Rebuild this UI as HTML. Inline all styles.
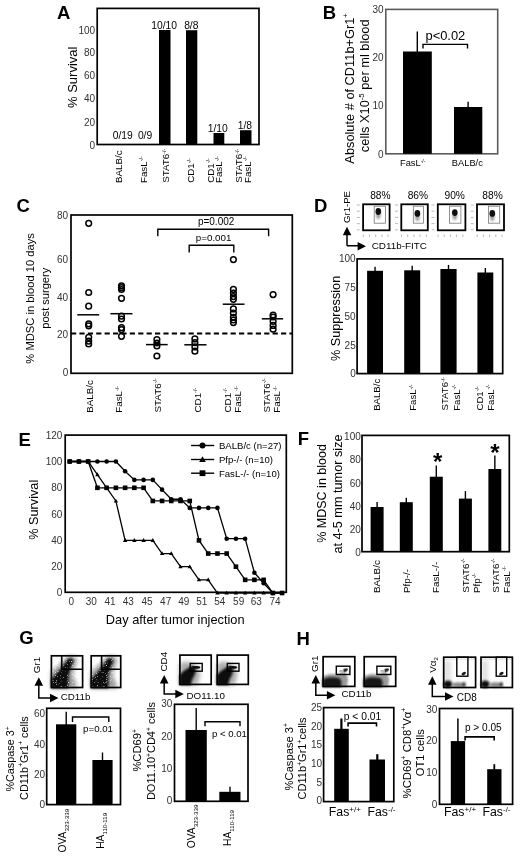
<!DOCTYPE html>
<html><head><meta charset="utf-8"><style>
html,body{margin:0;padding:0;background:#fff;}
svg{display:block;font-family:"Liberation Sans",sans-serif;filter:grayscale(1) blur(0.25px);}
</style></head><body>
<svg width="520" height="856" viewBox="0 0 520 856">
<defs>
<filter id="blur05" x="-50%" y="-50%" width="200%" height="200%"><feGaussianBlur stdDeviation="0.5"/></filter>
<filter id="blur1" x="-50%" y="-50%" width="200%" height="200%"><feGaussianBlur stdDeviation="1"/></filter>
<filter id="blur2" x="-50%" y="-50%" width="200%" height="200%"><feGaussianBlur stdDeviation="2"/></filter>
<filter id="noiseW3" x="0" y="0" width="100%" height="100%"><feTurbulence type="fractalNoise" baseFrequency="0.8" numOctaves="2" seed="3"/><feColorMatrix type="matrix" values="0 0 0 0 1  0 0 0 0 1  0 0 0 0 1  4 0 0 0 -2.45"/></filter>
<filter id="noiseW9" x="0" y="0" width="100%" height="100%"><feTurbulence type="fractalNoise" baseFrequency="0.8" numOctaves="2" seed="9"/><feColorMatrix type="matrix" values="0 0 0 0 1  0 0 0 0 1  0 0 0 0 1  4 0 0 0 -2.45"/></filter>
</defs>
<rect width="520" height="856" fill="#fff"/>
<text x="57.04" y="19.30" font-size="18.5" font-weight="bold" fill="#000">A</text>
<rect x="97.2" y="8.4" width="161.8" height="136.1" fill="none" stroke="#000" stroke-width="1.7"/>
<text x="89.53" y="149.09" font-size="10" fill="#333">0</text>
<text x="83.97" y="125.69" font-size="10" fill="#333">20</text>
<text x="83.97" y="102.39" font-size="10" fill="#333">40</text>
<text x="83.97" y="79.19" font-size="10" fill="#333">60</text>
<text x="83.97" y="55.99" font-size="10" fill="#333">80</text>
<text x="78.41" y="34.29" font-size="10" fill="#333">100</text>
<text transform="translate(77.04,108.00) rotate(-90)" font-size="13" fill="#000">% Survival</text>
<rect x="159" y="30" width="11.5" height="114.5" fill="#000"/>
<rect x="186" y="30.2" width="11.3" height="114.3" fill="#000"/>
<rect x="213.5" y="133" width="10.8" height="11.5" fill="#000"/>
<rect x="240" y="130.2" width="11.5" height="14.3" fill="#000"/>
<text x="112.72" y="139.09" font-size="10.3" fill="#000">0/19</text>
<text x="137.88" y="139.09" font-size="10.3" fill="#000">0/9</text>
<text x="151.22" y="29.09" font-size="10.3" fill="#000">10/10</text>
<text x="184.14" y="29.09" font-size="10.3" fill="#000">8/8</text>
<text x="207.79" y="131.59" font-size="10.3" fill="#000">1/10</text>
<text x="237.67" y="128.59" font-size="10.3" fill="#000">1/8</text>
<text transform="translate(122.22,183.10) rotate(-90)" font-size="9.8" fill="#000">BALB/c</text>
<text transform="translate(146.52,183.10) rotate(-90)" font-size="9.8" fill="#000">FasL<tspan font-size="5.39" dy="-3.53">-/-</tspan></text>
<text transform="translate(169.02,182.75) rotate(-90)" font-size="9.8" fill="#000">STAT6<tspan font-size="5.39" dy="-3.53">-/-</tspan></text>
<text transform="translate(194.42,182.80) rotate(-90)" font-size="9.8" fill="#000">CD1<tspan font-size="5.39" dy="-3.53">-/-</tspan></text>
<text transform="translate(213.92,182.80) rotate(-90)" font-size="9.8" fill="#000">CD1<tspan font-size="5.39" dy="-3.53">-/-</tspan></text>
<text transform="translate(222.42,183.10) rotate(-90)" font-size="9.8" fill="#000">FasL<tspan font-size="5.39" dy="-3.53">-/-</tspan></text>
<text transform="translate(242.32,182.75) rotate(-90)" font-size="9.8" fill="#000">STAT6<tspan font-size="5.39" dy="-3.53">-/-</tspan></text>
<text transform="translate(250.62,183.10) rotate(-90)" font-size="9.8" fill="#000">FasL<tspan font-size="5.39" dy="-3.53">-/-</tspan></text>
<text x="322.86" y="19.00" font-size="18.5" font-weight="bold" fill="#000">B</text>
<rect x="385.8" y="9.4" width="111.9" height="144.4" fill="none" stroke="#5a5a5a" stroke-width="1.6"/>
<text x="372.47" y="13.09" font-size="10" fill="#333">30</text>
<text x="372.47" y="61.49" font-size="10" fill="#333">20</text>
<text x="372.47" y="109.49" font-size="10" fill="#333">10</text>
<text x="378.03" y="157.99" font-size="10" fill="#333">0</text>
<rect x="403" y="51.5" width="28.8" height="102.3" fill="#000"/>
<rect x="454" y="107" width="28.3" height="46.8" fill="#000"/>
<line x1="417.3" y1="31.5" x2="417.3" y2="52" stroke="#000" stroke-width="1.4" />
<line x1="468.1" y1="101.8" x2="468.1" y2="108" stroke="#000" stroke-width="1.4" />
<path d="M423,48.5 V44.4 H467.5 V48.5" fill="none" stroke="#000" stroke-width="1.4" />
<text x="425.47" y="40.40" font-size="12.9" fill="#000">p&lt;0.02</text>
<text x="399.98" y="166.25" font-size="9.3" fill="#000">FasL<tspan font-size="5.12" dy="-3.35">-/-</tspan></text>
<text x="451.83" y="166.25" font-size="9.3" fill="#000">BALB/c</text>
<text transform="translate(353.87,163.64) rotate(-90)" font-size="12.8" fill="#000">Absolute # of CD11b+Gr1<tspan font-size="7.68" dy="-5.38">+</tspan></text>
<text transform="translate(369.17,152.14) rotate(-90)" font-size="12.8" fill="#000">cells X10<tspan font-size="7.68" dy="-5.38">-5</tspan><tspan dy="5.38"> per ml blood</tspan></text>
<text x="16.44" y="212.20" font-size="18.5" font-weight="bold" fill="#000">C</text>
<rect x="71" y="215" width="221.3" height="158.3" fill="none" stroke="#000" stroke-width="1.7"/>
<text x="57.07" y="218.89" font-size="10" fill="#333">80</text>
<text x="57.07" y="262.89" font-size="10" fill="#333">60</text>
<text x="57.07" y="300.69" font-size="10" fill="#333">40</text>
<text x="57.07" y="337.59" font-size="10" fill="#333">20</text>
<text x="62.63" y="375.69" font-size="10" fill="#333">0</text>
<line x1="71" y1="333.5" x2="292.3" y2="333.5" stroke="#000" stroke-width="1.8" stroke-dasharray="5.2,3.2"/>
<text transform="translate(33.91,363.63) rotate(-90)" font-size="11.2" fill="#000">% MDSC in blood 10 days</text>
<text transform="translate(48.87,328.76) rotate(-90)" font-size="11.1" fill="#000">post surgery</text>
<circle cx="88.7" cy="223.3" r="2.85" fill="none" stroke="#000" stroke-width="1.5"/>
<circle cx="88.7" cy="292.5" r="2.85" fill="none" stroke="#000" stroke-width="1.5"/>
<circle cx="88.7" cy="306.2" r="2.85" fill="none" stroke="#000" stroke-width="1.5"/>
<circle cx="88.7" cy="323.8" r="2.85" fill="none" stroke="#000" stroke-width="1.5"/>
<circle cx="88.7" cy="325.8" r="2.85" fill="none" stroke="#000" stroke-width="1.5"/>
<circle cx="88.7" cy="337.3" r="2.85" fill="none" stroke="#000" stroke-width="1.5"/>
<circle cx="88.7" cy="341.2" r="2.85" fill="none" stroke="#000" stroke-width="1.5"/>
<circle cx="88.7" cy="344" r="2.85" fill="none" stroke="#000" stroke-width="1.5"/>
<circle cx="121.5" cy="285.8" r="2.85" fill="none" stroke="#000" stroke-width="1.5"/>
<circle cx="121.5" cy="287.7" r="2.85" fill="none" stroke="#000" stroke-width="1.5"/>
<circle cx="121.5" cy="289.5" r="2.85" fill="none" stroke="#000" stroke-width="1.5"/>
<circle cx="121.5" cy="298.3" r="2.85" fill="none" stroke="#000" stroke-width="1.5"/>
<circle cx="121.5" cy="316.2" r="2.85" fill="none" stroke="#000" stroke-width="1.5"/>
<circle cx="121.5" cy="319" r="2.85" fill="none" stroke="#000" stroke-width="1.5"/>
<circle cx="121.5" cy="327.7" r="2.85" fill="none" stroke="#000" stroke-width="1.5"/>
<circle cx="121.5" cy="329.6" r="2.85" fill="none" stroke="#000" stroke-width="1.5"/>
<circle cx="121.5" cy="336.3" r="2.85" fill="none" stroke="#000" stroke-width="1.5"/>
<circle cx="156.9" cy="339.6" r="2.85" fill="none" stroke="#000" stroke-width="1.5"/>
<circle cx="156.9" cy="343" r="2.85" fill="none" stroke="#000" stroke-width="1.5"/>
<circle cx="156.9" cy="346" r="2.85" fill="none" stroke="#000" stroke-width="1.5"/>
<circle cx="156.9" cy="356" r="2.85" fill="none" stroke="#000" stroke-width="1.5"/>
<circle cx="194.9" cy="338.9" r="2.85" fill="none" stroke="#000" stroke-width="1.5"/>
<circle cx="194.9" cy="342.7" r="2.85" fill="none" stroke="#000" stroke-width="1.5"/>
<circle cx="194.9" cy="346.9" r="2.85" fill="none" stroke="#000" stroke-width="1.5"/>
<circle cx="194.9" cy="351.2" r="2.85" fill="none" stroke="#000" stroke-width="1.5"/>
<circle cx="233.4" cy="259.6" r="2.85" fill="none" stroke="#000" stroke-width="1.5"/>
<circle cx="233.4" cy="289.4" r="2.85" fill="none" stroke="#000" stroke-width="1.5"/>
<circle cx="233.4" cy="293" r="2.85" fill="none" stroke="#000" stroke-width="1.5"/>
<circle cx="233.4" cy="296.6" r="2.85" fill="none" stroke="#000" stroke-width="1.5"/>
<circle cx="233.4" cy="299.3" r="2.85" fill="none" stroke="#000" stroke-width="1.5"/>
<circle cx="233.4" cy="308.9" r="2.85" fill="none" stroke="#000" stroke-width="1.5"/>
<circle cx="233.4" cy="313" r="2.85" fill="none" stroke="#000" stroke-width="1.5"/>
<circle cx="233.4" cy="317.3" r="2.85" fill="none" stroke="#000" stroke-width="1.5"/>
<circle cx="233.4" cy="320" r="2.85" fill="none" stroke="#000" stroke-width="1.5"/>
<circle cx="233.4" cy="322.6" r="2.85" fill="none" stroke="#000" stroke-width="1.5"/>
<circle cx="273.1" cy="294.6" r="2.85" fill="none" stroke="#000" stroke-width="1.5"/>
<circle cx="273.1" cy="315" r="2.85" fill="none" stroke="#000" stroke-width="1.5"/>
<circle cx="273.1" cy="317" r="2.85" fill="none" stroke="#000" stroke-width="1.5"/>
<circle cx="273.1" cy="321.5" r="2.85" fill="none" stroke="#000" stroke-width="1.5"/>
<circle cx="273.1" cy="325.4" r="2.85" fill="none" stroke="#000" stroke-width="1.5"/>
<circle cx="273.1" cy="329.2" r="2.85" fill="none" stroke="#000" stroke-width="1.5"/>
<line x1="77.3" y1="314.8" x2="99.2" y2="314.8" stroke="#000" stroke-width="1.5" />
<line x1="110.4" y1="313.7" x2="132.5" y2="313.7" stroke="#000" stroke-width="1.5" />
<line x1="146" y1="344.6" x2="167.7" y2="344.6" stroke="#000" stroke-width="1.5" />
<line x1="184.3" y1="344.8" x2="206.5" y2="344.8" stroke="#000" stroke-width="1.5" />
<line x1="222.8" y1="304.2" x2="244.5" y2="304.2" stroke="#000" stroke-width="1.5" />
<line x1="261.8" y1="318.8" x2="283.1" y2="318.8" stroke="#000" stroke-width="1.5" />
<path d="M157.8,236.3 V229.2 H268.6 V236.3" fill="none" stroke="#000" stroke-width="1.4" />
<path d="M189.2,252.5 V245.2 H233.8 V252.5" fill="none" stroke="#000" stroke-width="1.4" />
<text x="197.92" y="225.09" font-size="10" fill="#000">p=0.002</text>
<text x="195.77" y="241.32" font-size="9.8" fill="#000">p=0.001</text>
<text transform="translate(93.02,412.80) rotate(-90)" font-size="9.8" fill="#000">BALB/c</text>
<text transform="translate(122.32,412.80) rotate(-90)" font-size="9.8" fill="#000">FasL<tspan font-size="5.39" dy="-3.53">-/-</tspan></text>
<text transform="translate(160.62,412.45) rotate(-90)" font-size="9.8" fill="#000">STAT6<tspan font-size="5.39" dy="-3.53">-/-</tspan></text>
<text transform="translate(200.72,412.50) rotate(-90)" font-size="9.8" fill="#000">CD1<tspan font-size="5.39" dy="-3.53">-/-</tspan></text>
<text transform="translate(230.72,412.50) rotate(-90)" font-size="9.8" fill="#000">CD1<tspan font-size="5.39" dy="-3.53">-/-</tspan></text>
<text transform="translate(241.12,412.80) rotate(-90)" font-size="9.8" fill="#000">FasL<tspan font-size="5.39" dy="-3.53">-/-</tspan></text>
<text transform="translate(269.92,412.45) rotate(-90)" font-size="9.8" fill="#000">STAT6<tspan font-size="5.39" dy="-3.53">-/-</tspan></text>
<text transform="translate(280.42,412.80) rotate(-90)" font-size="9.8" fill="#000">FasL<tspan font-size="5.39" dy="-3.53">-/-</tspan></text>
<text x="313.96" y="211.70" font-size="18.5" font-weight="bold" fill="#000">D</text>
<rect x="363.1" y="204.3" width="26.5" height="26.0" fill="none" stroke="#000" stroke-width="1.8"/>
<rect x="374.2" y="206.2" width="11.3" height="17.0" fill="none" stroke="#777" stroke-width="0.8"/>
<ellipse cx="378.3" cy="214.5" rx="2.2" ry="4.5" fill="#999" filter="url(#blur1)"/>
<ellipse cx="378.3" cy="211.5" rx="2.8" ry="3.4" fill="#111" filter="url(#blur05)"/>
<line x1="356.8" y1="205.0" x2="359.8" y2="205.0" stroke="#aaa" stroke-width="0.8" />
<line x1="363.3" y1="234.5" x2="363.3" y2="237" stroke="#aaa" stroke-width="0.8" />
<line x1="356.8" y1="211.2" x2="359.8" y2="211.2" stroke="#aaa" stroke-width="0.8" />
<line x1="369.5" y1="234.5" x2="369.5" y2="237" stroke="#aaa" stroke-width="0.8" />
<line x1="356.8" y1="217.4" x2="359.8" y2="217.4" stroke="#aaa" stroke-width="0.8" />
<line x1="375.7" y1="234.5" x2="375.7" y2="237" stroke="#aaa" stroke-width="0.8" />
<line x1="356.8" y1="223.6" x2="359.8" y2="223.6" stroke="#aaa" stroke-width="0.8" />
<line x1="381.90000000000003" y1="234.5" x2="381.90000000000003" y2="237" stroke="#aaa" stroke-width="0.8" />
<line x1="356.8" y1="229.8" x2="359.8" y2="229.8" stroke="#aaa" stroke-width="0.8" />
<line x1="388.1" y1="234.5" x2="388.1" y2="237" stroke="#aaa" stroke-width="0.8" />
<rect x="401.3" y="204.3" width="26.5" height="26.0" fill="none" stroke="#000" stroke-width="1.8"/>
<rect x="413.3" y="206.2" width="10.2" height="17.0" fill="none" stroke="#777" stroke-width="0.8"/>
<ellipse cx="417.4" cy="216.4" rx="2.2" ry="4.5" fill="#999" filter="url(#blur1)"/>
<ellipse cx="417.4" cy="213.4" rx="2.8" ry="3.4" fill="#111" filter="url(#blur05)"/>
<line x1="395.0" y1="205.0" x2="398.0" y2="205.0" stroke="#aaa" stroke-width="0.8" />
<line x1="401.5" y1="234.5" x2="401.5" y2="237" stroke="#aaa" stroke-width="0.8" />
<line x1="395.0" y1="211.2" x2="398.0" y2="211.2" stroke="#aaa" stroke-width="0.8" />
<line x1="407.7" y1="234.5" x2="407.7" y2="237" stroke="#aaa" stroke-width="0.8" />
<line x1="395.0" y1="217.4" x2="398.0" y2="217.4" stroke="#aaa" stroke-width="0.8" />
<line x1="413.9" y1="234.5" x2="413.9" y2="237" stroke="#aaa" stroke-width="0.8" />
<line x1="395.0" y1="223.6" x2="398.0" y2="223.6" stroke="#aaa" stroke-width="0.8" />
<line x1="420.1" y1="234.5" x2="420.1" y2="237" stroke="#aaa" stroke-width="0.8" />
<line x1="395.0" y1="229.8" x2="398.0" y2="229.8" stroke="#aaa" stroke-width="0.8" />
<line x1="426.3" y1="234.5" x2="426.3" y2="237" stroke="#aaa" stroke-width="0.8" />
<rect x="437.8" y="204.3" width="27.6" height="26.0" fill="none" stroke="#000" stroke-width="1.8"/>
<rect x="449.5" y="206.2" width="11.4" height="17.0" fill="none" stroke="#777" stroke-width="0.8"/>
<ellipse cx="454.8" cy="215.6" rx="2.2" ry="4.5" fill="#999" filter="url(#blur1)"/>
<ellipse cx="454.8" cy="212.6" rx="2.8" ry="3.4" fill="#111" filter="url(#blur05)"/>
<line x1="431.5" y1="205.0" x2="434.5" y2="205.0" stroke="#aaa" stroke-width="0.8" />
<line x1="438.0" y1="234.5" x2="438.0" y2="237" stroke="#aaa" stroke-width="0.8" />
<line x1="431.5" y1="211.2" x2="434.5" y2="211.2" stroke="#aaa" stroke-width="0.8" />
<line x1="444.2" y1="234.5" x2="444.2" y2="237" stroke="#aaa" stroke-width="0.8" />
<line x1="431.5" y1="217.4" x2="434.5" y2="217.4" stroke="#aaa" stroke-width="0.8" />
<line x1="450.4" y1="234.5" x2="450.4" y2="237" stroke="#aaa" stroke-width="0.8" />
<line x1="431.5" y1="223.6" x2="434.5" y2="223.6" stroke="#aaa" stroke-width="0.8" />
<line x1="456.6" y1="234.5" x2="456.6" y2="237" stroke="#aaa" stroke-width="0.8" />
<line x1="431.5" y1="229.8" x2="434.5" y2="229.8" stroke="#aaa" stroke-width="0.8" />
<line x1="462.8" y1="234.5" x2="462.8" y2="237" stroke="#aaa" stroke-width="0.8" />
<rect x="477.0" y="204.3" width="27.0" height="26.0" fill="none" stroke="#000" stroke-width="1.8"/>
<rect x="488.4" y="206.2" width="11.3" height="17.0" fill="none" stroke="#777" stroke-width="0.8"/>
<ellipse cx="492.3" cy="216.4" rx="2.2" ry="4.5" fill="#999" filter="url(#blur1)"/>
<ellipse cx="492.3" cy="213.4" rx="2.8" ry="3.4" fill="#111" filter="url(#blur05)"/>
<line x1="470.7" y1="205.0" x2="473.7" y2="205.0" stroke="#aaa" stroke-width="0.8" />
<line x1="477.2" y1="234.5" x2="477.2" y2="237" stroke="#aaa" stroke-width="0.8" />
<line x1="470.7" y1="211.2" x2="473.7" y2="211.2" stroke="#aaa" stroke-width="0.8" />
<line x1="483.4" y1="234.5" x2="483.4" y2="237" stroke="#aaa" stroke-width="0.8" />
<line x1="470.7" y1="217.4" x2="473.7" y2="217.4" stroke="#aaa" stroke-width="0.8" />
<line x1="489.59999999999997" y1="234.5" x2="489.59999999999997" y2="237" stroke="#aaa" stroke-width="0.8" />
<line x1="470.7" y1="223.6" x2="473.7" y2="223.6" stroke="#aaa" stroke-width="0.8" />
<line x1="495.8" y1="234.5" x2="495.8" y2="237" stroke="#aaa" stroke-width="0.8" />
<line x1="470.7" y1="229.8" x2="473.7" y2="229.8" stroke="#aaa" stroke-width="0.8" />
<line x1="502.0" y1="234.5" x2="502.0" y2="237" stroke="#aaa" stroke-width="0.8" />
<text x="370.15" y="199.46" font-size="10.2" fill="#000">88%</text>
<text x="407.65" y="199.46" font-size="10.2" fill="#000">86%</text>
<text x="444.54" y="199.46" font-size="10.2" fill="#000">90%</text>
<text x="482.35" y="199.46" font-size="10.2" fill="#000">88%</text>
<path d="M347,245.8 V233 M347,245.8 H359" fill="none" stroke="#000" stroke-width="1.5" />
<path d="M342.8,235.2 L347,226.7 L351.3,235.2 Z" fill="#000" stroke="none" stroke-width="1.3" />
<path d="M357.6,242 L366,246.3 L357.6,250.6 Z" fill="#000" stroke="none" stroke-width="1.3" />
<text transform="translate(349.75,222.98) rotate(-90)" font-size="9.6" fill="#000">Gr1-PE</text>
<text x="371.70" y="249.26" font-size="9.9" fill="#000">CD11b-FITC</text>
<rect x="357.1" y="258.9" width="145.6" height="114.7" fill="none" stroke="#000" stroke-width="1.7"/>
<text x="339.01" y="261.69" font-size="10" fill="#333">100</text>
<text x="344.60" y="290.79" font-size="10" fill="#333">75</text>
<text x="344.57" y="319.69" font-size="10" fill="#333">50</text>
<text x="344.60" y="348.89" font-size="10" fill="#333">25</text>
<text x="350.13" y="376.99" font-size="10" fill="#333">0</text>
<rect x="367.1" y="270.8" width="15.9" height="102.8" fill="#000"/>
<line x1="375.05" y1="266.8" x2="375.05" y2="271.8" stroke="#000" stroke-width="1.4" />
<rect x="404.2" y="270.3" width="16.0" height="103.3" fill="#000"/>
<line x1="412.2" y1="265.8" x2="412.2" y2="271.3" stroke="#000" stroke-width="1.4" />
<rect x="440.4" y="269" width="16.2" height="104.6" fill="#000"/>
<line x1="448.5" y1="264.9" x2="448.5" y2="270" stroke="#000" stroke-width="1.4" />
<rect x="477.4" y="272.5" width="15.9" height="101.1" fill="#000"/>
<line x1="485.35" y1="268" x2="485.35" y2="273.5" stroke="#000" stroke-width="1.4" />
<text transform="translate(339.53,361.12) rotate(-90)" font-size="12.7" fill="#000">% Suppression</text>
<text transform="translate(379.55,410.79) rotate(-90)" font-size="9.6" fill="#000">BALB/c</text>
<text transform="translate(416.45,410.79) rotate(-90)" font-size="9.6" fill="#000">FasL<tspan font-size="5.28" dy="-3.46">-/-</tspan></text>
<text transform="translate(448.15,410.44) rotate(-90)" font-size="9.6" fill="#000">STAT6<tspan font-size="5.28" dy="-3.46">-/-</tspan></text>
<text transform="translate(459.55,410.79) rotate(-90)" font-size="9.6" fill="#000">FasL<tspan font-size="5.28" dy="-3.46">-/-</tspan></text>
<text transform="translate(482.55,410.49) rotate(-90)" font-size="9.6" fill="#000">CD1<tspan font-size="5.28" dy="-3.46">-/-</tspan></text>
<text transform="translate(493.95,410.79) rotate(-90)" font-size="9.6" fill="#000">FasL<tspan font-size="5.28" dy="-3.46">-/-</tspan></text>
<text x="18.56" y="445.50" font-size="18.5" font-weight="bold" fill="#000">E</text>
<rect x="65.2" y="435.1" width="221.1" height="157.2" fill="none" stroke="#000" stroke-width="1.7"/>
<text x="45.71" y="438.89" font-size="10" fill="#333">120</text>
<text x="45.71" y="465.39" font-size="10" fill="#333">100</text>
<text x="51.27" y="491.49" font-size="10" fill="#333">80</text>
<text x="51.27" y="517.99" font-size="10" fill="#333">60</text>
<text x="51.27" y="544.09" font-size="10" fill="#333">40</text>
<text x="51.27" y="569.99" font-size="10" fill="#333">20</text>
<text x="56.83" y="595.79" font-size="10" fill="#333">0</text>
<text x="68.47" y="605.49" font-size="10" fill="#333">0</text>
<text x="85.69" y="605.49" font-size="10" fill="#333">30</text>
<text x="104.57" y="605.49" font-size="10" fill="#333">41</text>
<text x="122.79" y="605.49" font-size="10" fill="#333">43</text>
<text x="141.53" y="605.49" font-size="10" fill="#333">45</text>
<text x="160.08" y="605.49" font-size="10" fill="#333">47</text>
<text x="178.26" y="605.49" font-size="10" fill="#333">49</text>
<text x="196.18" y="605.49" font-size="10" fill="#333">51</text>
<text x="214.18" y="605.49" font-size="10" fill="#333">54</text>
<text x="233.08" y="605.49" font-size="10" fill="#333">59</text>
<text x="250.80" y="605.49" font-size="10" fill="#333">63</text>
<text x="269.53" y="605.49" font-size="10" fill="#333">74</text>
<text transform="translate(37.83,539.70) rotate(-90)" font-size="12.7" fill="#000">% Survival</text>
<text x="105.85" y="623.67" font-size="12.8" fill="#000">Day after tumor injection</text>
<path d="M69.7,461.5 L78.94,461.5 L88.17,461.5 L97.41,474.65 L106.64,487.8 L115.88,500.95 L125.11,540.4 L134.34,540.4 L143.58,540.4 L152.81,540.4 L162.05,553.55 L171.28,553.55 L180.52,566.7 L189.75,566.7 L198.99,579.85 L208.22,579.85 L217.46,593.0 L226.69,593.0 L235.93,593.0 L245.16,593.0 L254.4,593.0 L263.63,593.0 L272.87,593.0 L282.1,593.0" fill="none" stroke="#000" stroke-width="1.3" />
<path d="M67.50,463.00 L69.70,459.20 L71.90,463.00 Z" fill="#000"/>
<path d="M76.74,463.00 L78.94,459.20 L81.14,463.00 Z" fill="#000"/>
<path d="M85.97,463.00 L88.17,459.20 L90.37,463.00 Z" fill="#000"/>
<path d="M95.21,476.15 L97.41,472.35 L99.61,476.15 Z" fill="#000"/>
<path d="M104.44,489.30 L106.64,485.50 L108.84,489.30 Z" fill="#000"/>
<path d="M113.68,502.45 L115.88,498.65 L118.08,502.45 Z" fill="#000"/>
<path d="M122.91,541.90 L125.11,538.10 L127.31,541.90 Z" fill="#000"/>
<path d="M132.14,541.90 L134.34,538.10 L136.54,541.90 Z" fill="#000"/>
<path d="M141.38,541.90 L143.58,538.10 L145.78,541.90 Z" fill="#000"/>
<path d="M150.61,541.90 L152.81,538.10 L155.01,541.90 Z" fill="#000"/>
<path d="M159.85,555.05 L162.05,551.25 L164.25,555.05 Z" fill="#000"/>
<path d="M169.08,555.05 L171.28,551.25 L173.48,555.05 Z" fill="#000"/>
<path d="M178.32,568.20 L180.52,564.40 L182.72,568.20 Z" fill="#000"/>
<path d="M187.55,568.20 L189.75,564.40 L191.95,568.20 Z" fill="#000"/>
<path d="M196.79,581.35 L198.99,577.55 L201.19,581.35 Z" fill="#000"/>
<path d="M206.02,581.35 L208.22,577.55 L210.42,581.35 Z" fill="#000"/>
<path d="M215.26,594.50 L217.46,590.70 L219.66,594.50 Z" fill="#000"/>
<path d="M224.49,594.50 L226.69,590.70 L228.89,594.50 Z" fill="#000"/>
<path d="M233.73,594.50 L235.93,590.70 L238.13,594.50 Z" fill="#000"/>
<path d="M242.96,594.50 L245.16,590.70 L247.36,594.50 Z" fill="#000"/>
<path d="M252.20,594.50 L254.40,590.70 L256.60,594.50 Z" fill="#000"/>
<path d="M261.43,594.50 L263.63,590.70 L265.83,594.50 Z" fill="#000"/>
<path d="M270.67,594.50 L272.87,590.70 L275.07,594.50 Z" fill="#000"/>
<path d="M279.90,594.50 L282.10,590.70 L284.30,594.50 Z" fill="#000"/>
<path d="M69.7,461.5 L78.94,461.5 L88.17,461.5 L97.41,487.8 L106.64,487.8 L115.88,487.8 L125.11,487.8 L134.34,487.8 L143.58,487.8 L152.81,500.95 L162.05,500.95 L171.28,500.95 L180.52,500.95 L189.75,500.95 L198.99,540.4 L208.22,553.55 L217.46,553.55 L226.69,553.55 L235.93,566.7 L245.16,579.85 L254.4,579.85 L263.63,579.85 L272.87,593.0 L282.1,593.0" fill="none" stroke="#000" stroke-width="1.3" />
<rect x="67.4" y="459.2" width="4.6" height="4.6" fill="#000"/>
<rect x="76.64" y="459.2" width="4.6" height="4.6" fill="#000"/>
<rect x="85.87" y="459.2" width="4.6" height="4.6" fill="#000"/>
<rect x="95.11" y="485.5" width="4.6" height="4.6" fill="#000"/>
<rect x="104.34" y="485.5" width="4.6" height="4.6" fill="#000"/>
<rect x="113.58" y="485.5" width="4.6" height="4.6" fill="#000"/>
<rect x="122.81" y="485.5" width="4.6" height="4.6" fill="#000"/>
<rect x="132.04" y="485.5" width="4.6" height="4.6" fill="#000"/>
<rect x="141.28" y="485.5" width="4.6" height="4.6" fill="#000"/>
<rect x="150.51" y="498.65" width="4.6" height="4.6" fill="#000"/>
<rect x="159.75" y="498.65" width="4.6" height="4.6" fill="#000"/>
<rect x="168.98" y="498.65" width="4.6" height="4.6" fill="#000"/>
<rect x="178.22" y="498.65" width="4.6" height="4.6" fill="#000"/>
<rect x="187.45" y="498.65" width="4.6" height="4.6" fill="#000"/>
<rect x="196.69" y="538.1" width="4.6" height="4.6" fill="#000"/>
<rect x="205.92" y="551.25" width="4.6" height="4.6" fill="#000"/>
<rect x="215.16" y="551.25" width="4.6" height="4.6" fill="#000"/>
<rect x="224.39" y="551.25" width="4.6" height="4.6" fill="#000"/>
<rect x="233.63" y="564.4" width="4.6" height="4.6" fill="#000"/>
<rect x="242.86" y="577.55" width="4.6" height="4.6" fill="#000"/>
<rect x="252.1" y="577.55" width="4.6" height="4.6" fill="#000"/>
<rect x="261.33" y="577.55" width="4.6" height="4.6" fill="#000"/>
<rect x="270.57" y="590.7" width="4.6" height="4.6" fill="#000"/>
<rect x="279.8" y="590.7" width="4.6" height="4.6" fill="#000"/>
<path d="M69.7,461.5 L78.94,461.5 L88.17,461.5 L97.41,461.5 L106.64,461.5 L115.88,461.5 L125.11,471.23 L134.34,479.91 L143.58,479.91 L152.81,479.91 L162.05,489.64 L171.28,499.24 L180.52,499.24 L189.75,507.92 L198.99,507.92 L208.22,507.92 L217.46,507.92 L226.69,538.69 L235.93,538.69 L245.16,538.69 L254.4,572.75 L263.63,583.27 L272.87,593.0" fill="none" stroke="#000" stroke-width="1.3" />
<circle cx="69.7" cy="461.5" r="2.3" fill="#000"/>
<circle cx="78.94" cy="461.5" r="2.3" fill="#000"/>
<circle cx="88.17" cy="461.5" r="2.3" fill="#000"/>
<circle cx="97.41" cy="461.5" r="2.3" fill="#000"/>
<circle cx="106.64" cy="461.5" r="2.3" fill="#000"/>
<circle cx="115.88" cy="461.5" r="2.3" fill="#000"/>
<circle cx="125.11" cy="471.23" r="2.3" fill="#000"/>
<circle cx="134.34" cy="479.91" r="2.3" fill="#000"/>
<circle cx="143.58" cy="479.91" r="2.3" fill="#000"/>
<circle cx="152.81" cy="479.91" r="2.3" fill="#000"/>
<circle cx="162.05" cy="489.64" r="2.3" fill="#000"/>
<circle cx="171.28" cy="499.24" r="2.3" fill="#000"/>
<circle cx="180.52" cy="499.24" r="2.3" fill="#000"/>
<circle cx="189.75" cy="507.92" r="2.3" fill="#000"/>
<circle cx="198.99" cy="507.92" r="2.3" fill="#000"/>
<circle cx="208.22" cy="507.92" r="2.3" fill="#000"/>
<circle cx="217.46" cy="507.92" r="2.3" fill="#000"/>
<circle cx="226.69" cy="538.69" r="2.3" fill="#000"/>
<circle cx="235.93" cy="538.69" r="2.3" fill="#000"/>
<circle cx="245.16" cy="538.69" r="2.3" fill="#000"/>
<circle cx="254.4" cy="572.75" r="2.3" fill="#000"/>
<circle cx="263.63" cy="583.27" r="2.3" fill="#000"/>
<circle cx="272.87" cy="593.0" r="2.3" fill="#000"/>
<line x1="191.1" y1="445.5" x2="214.2" y2="445.5" stroke="#000" stroke-width="1.4" />
<circle cx="202.5" cy="445.5" r="3.0" fill="#000"/>
<line x1="191.1" y1="459.5" x2="214.2" y2="459.5" stroke="#000" stroke-width="1.4" />
<path d="M199.2,461.9 L202.5,456.2 L205.8,461.9 Z" fill="#000"/>
<line x1="191.1" y1="473.2" x2="214.2" y2="473.2" stroke="#000" stroke-width="1.4" />
<rect x="199.6" y="470.3" width="5.8" height="5.8" fill="#000"/>
<text x="218.91" y="448.85" font-size="9.6" fill="#000">BALB/c (n=27)</text>
<text x="218.91" y="462.85" font-size="9.6" fill="#000">Pfp-/- (n=10)</text>
<text x="218.91" y="476.55" font-size="9.6" fill="#000">FasL-/- (n=10)</text>
<text x="297.66" y="444.90" font-size="18.5" font-weight="bold" fill="#000">F</text>
<rect x="362" y="435.4" width="147.3" height="116.3" fill="none" stroke="#000" stroke-width="1.7"/>
<text x="344.11" y="440.09" font-size="10" fill="#333">100</text>
<text x="349.67" y="463.19" font-size="10" fill="#333">80</text>
<text x="349.67" y="486.69" font-size="10" fill="#333">60</text>
<text x="349.67" y="509.89" font-size="10" fill="#333">40</text>
<text x="349.67" y="532.79" font-size="10" fill="#333">20</text>
<text x="355.23" y="555.59" font-size="10" fill="#333">0</text>
<rect x="370.6" y="507" width="13.0" height="44.7" fill="#000"/>
<line x1="377.1" y1="502.1" x2="377.1" y2="508" stroke="#000" stroke-width="1.4" />
<rect x="399.8" y="502.2" width="13.0" height="49.5" fill="#000"/>
<line x1="406.3" y1="497.8" x2="406.3" y2="503.2" stroke="#000" stroke-width="1.4" />
<rect x="429.8" y="476.7" width="13.0" height="75.0" fill="#000"/>
<line x1="436.3" y1="465.5" x2="436.3" y2="477.7" stroke="#000" stroke-width="1.4" />
<rect x="458.9" y="498.6" width="13.0" height="53.1" fill="#000"/>
<line x1="465.4" y1="491.1" x2="465.4" y2="499.6" stroke="#000" stroke-width="1.4" />
<rect x="488.4" y="469" width="12.9" height="82.7" fill="#000"/>
<line x1="494.85" y1="455.4" x2="494.85" y2="470" stroke="#000" stroke-width="1.4" />
<text x="432.91" y="469.60" font-size="24" font-weight="bold" fill="#000">*</text>
<text x="490.31" y="460.90" font-size="24" font-weight="bold" fill="#000">*</text>
<text transform="translate(326.36,542.75) rotate(-90)" font-size="12.5" fill="#000">% MDSC in blood</text>
<text transform="translate(342.43,553.62) rotate(-90)" font-size="12.7" fill="#000">at 4-5 mm tumor size</text>
<text transform="translate(379.96,593.11) rotate(-90)" font-size="9.9" fill="#000">BALB/c</text>
<text transform="translate(410.36,593.11) rotate(-90)" font-size="9.9" fill="#000">Pfp-/-</text>
<text transform="translate(438.86,593.11) rotate(-90)" font-size="9.9" fill="#000">FasL-/-</text>
<text transform="translate(468.56,592.75) rotate(-90)" font-size="9.9" fill="#000">STAT6<tspan font-size="5.45" dy="-3.56">-/-</tspan></text>
<text transform="translate(479.66,593.11) rotate(-90)" font-size="9.9" fill="#000">Pfp<tspan font-size="5.45" dy="-3.56">-/-</tspan></text>
<text transform="translate(498.56,592.75) rotate(-90)" font-size="9.9" fill="#000">STAT6<tspan font-size="5.45" dy="-3.56">-/-</tspan></text>
<text transform="translate(509.96,593.11) rotate(-90)" font-size="9.9" fill="#000">FasL<tspan font-size="5.45" dy="-3.56">-/-</tspan></text>
<text x="19.34" y="643.60" font-size="18.5" font-weight="bold" fill="#000">G</text>
<path d="M38.8,684.3 V698 H51.5" fill="none" stroke="#000" stroke-width="1.5" />
<path d="M34.5,685.8 L38.8,677.3 L43.099999999999994,685.8 Z" fill="#000" stroke="none" stroke-width="1.3" />
<path d="M50.0,693.7 L58.5,698 L50.0,702.3 Z" fill="#000" stroke="none" stroke-width="1.3" />
<text transform="translate(39.92,673.19) rotate(-90)" font-size="9.8" fill="#000">Gr1</text>
<text x="60.70" y="700.42" font-size="9.8" fill="#000">CD11b</text>
<path d="M164.2,682 V694 H176.8" fill="none" stroke="#000" stroke-width="1.5" />
<path d="M159.89999999999998,683.5 L164.2,675 L168.5,683.5 Z" fill="#000" stroke="none" stroke-width="1.3" />
<path d="M175.3,689.7 L183.8,694 L175.3,698.3 Z" fill="#000" stroke="none" stroke-width="1.3" />
<text transform="translate(167.22,671.50) rotate(-90)" font-size="9.8" fill="#000">CD4</text>
<text x="186.50" y="698.72" font-size="9.8" fill="#000">DO11.10</text>
<path d="M315.8,682 V695.3 H328.4" fill="none" stroke="#000" stroke-width="1.5" />
<path d="M311.5,683.5 L315.8,675 L320.1,683.5 Z" fill="#000" stroke="none" stroke-width="1.3" />
<path d="M326.9,691.0 L335.4,695.3 L326.9,699.5999999999999 Z" fill="#000" stroke="none" stroke-width="1.3" />
<text transform="translate(318.02,671.99) rotate(-90)" font-size="9.8" fill="#000">Gr1</text>
<text x="341.40" y="696.96" font-size="9.9" fill="#000">CD11b</text>
<path d="M432.3,683.2 V696.5 H446.5" fill="none" stroke="#000" stroke-width="1.5" />
<path d="M428.0,684.7 L432.3,676.2 L436.6,684.7 Z" fill="#000" stroke="none" stroke-width="1.3" />
<path d="M445.0,692.2 L453.5,696.5 L445.0,700.8 Z" fill="#000" stroke="none" stroke-width="1.3" />
<text transform="translate(435.72,672.74) rotate(-90)" font-size="9.8" fill="#000">V&#945;<tspan font-size="5.88" dy="2.74">2</tspan></text>
<text x="456.69" y="700.89" font-size="10" fill="#000">CD8</text>
<rect x="46.7" y="708.3" width="73.8" height="96.3" fill="none" stroke="#000" stroke-width="1.7"/>
<text x="33.97" y="717.19" font-size="10" fill="#333">60</text>
<text x="33.97" y="747.59" font-size="10" fill="#333">40</text>
<text x="33.97" y="777.99" font-size="10" fill="#333">20</text>
<text x="39.53" y="808.49" font-size="10" fill="#333">0</text>
<rect x="56" y="724.3" width="20.3" height="80.3" fill="#000"/>
<line x1="66.2" y1="711.7" x2="66.2" y2="725" stroke="#000" stroke-width="1.4" />
<rect x="92.4" y="760" width="20.2" height="44.6" fill="#000"/>
<line x1="102.5" y1="752.5" x2="102.5" y2="761" stroke="#000" stroke-width="1.4" />
<path d="M72.5,722 V717 H108.8 V722" fill="none" stroke="#000" stroke-width="1.4" />
<text x="83.12" y="731.69" font-size="9.7" fill="#000">p=0.01</text>
<text transform="translate(14.27,791.58) rotate(-90)" font-size="10.8" fill="#000">%Caspase 3<tspan font-size="6.48" dy="-4.54">+</tspan></text>
<text transform="translate(27.50,799.95) rotate(-90)" font-size="10.9" fill="#000">CD11b<tspan font-size="6.54" dy="-4.58">+</tspan><tspan dy="4.58">Gr1</tspan><tspan font-size="6.54" dy="-4.58">+</tspan><tspan dy="4.58"> cells</tspan></text>
<text transform="translate(66.09,852.49) rotate(-90)" font-size="10.3" fill="#000">OVA<tspan font-size="6.18" dy="2.88">323-339</tspan></text>
<text transform="translate(104.19,848.84) rotate(-90)" font-size="10.3" fill="#000">HA<tspan font-size="6.18" dy="2.88">110-119</tspan></text>
<rect x="174.5" y="704.3" width="73.5" height="97.0" fill="none" stroke="#000" stroke-width="1.7"/>
<text x="161.17" y="707.49" font-size="10" fill="#333">30</text>
<text x="161.17" y="740.49" font-size="10" fill="#333">20</text>
<text x="161.17" y="772.49" font-size="10" fill="#333">10</text>
<text x="166.73" y="804.49" font-size="10" fill="#333">0</text>
<rect x="185.5" y="730" width="21.3" height="71.3" fill="#000"/>
<line x1="196.2" y1="708" x2="196.2" y2="731" stroke="#000" stroke-width="1.4" />
<rect x="219.3" y="791.8" width="21.2" height="9.5" fill="#000"/>
<line x1="230" y1="786.7" x2="230" y2="792.5" stroke="#000" stroke-width="1.4" />
<path d="M205,726.3 V721.8 H240 V726.3" fill="none" stroke="#000" stroke-width="1.4" />
<text x="211.88" y="737.15" font-size="9.6" fill="#000">p &lt; 0.01</text>
<text transform="translate(141.41,771.60) rotate(-90)" font-size="11.2" fill="#000">%CD69<tspan font-size="6.72" dy="-4.7">+</tspan></text>
<text transform="translate(155.14,800.10) rotate(-90)" font-size="11" fill="#000">DO11.10<tspan font-size="6.6" dy="-4.62">+</tspan><tspan dy="4.62">CD4</tspan><tspan font-size="6.6" dy="-4.62">+</tspan><tspan dy="4.62"> cells</tspan></text>
<text transform="translate(194.69,848.29) rotate(-90)" font-size="10.3" fill="#000">OVA<tspan font-size="6.18" dy="2.88">323-339</tspan></text>
<text transform="translate(231.09,846.04) rotate(-90)" font-size="10.3" fill="#000">HA<tspan font-size="6.18" dy="2.88">110-119</tspan></text>
<text x="296.56" y="644.60" font-size="18.5" font-weight="bold" fill="#000">H</text>
<rect x="323.6" y="707.6" width="70.2" height="94.0" fill="none" stroke="#000" stroke-width="1.7"/>
<text x="311.00" y="711.39" font-size="10" fill="#333">25</text>
<text x="310.97" y="729.89" font-size="10" fill="#333">20</text>
<text x="311.00" y="748.39" font-size="10" fill="#333">15</text>
<text x="310.97" y="766.79" font-size="10" fill="#333">10</text>
<text x="316.56" y="786.09" font-size="10" fill="#333">5</text>
<text x="316.53" y="804.29" font-size="10" fill="#333">0</text>
<rect x="334.2" y="728.8" width="14.6" height="72.8" fill="#000"/>
<line x1="341.4" y1="718.5" x2="341.4" y2="729.5" stroke="#000" stroke-width="2.2" />
<rect x="369.5" y="759.5" width="15.5" height="42.1" fill="#000"/>
<line x1="377.3" y1="754.2" x2="377.3" y2="760" stroke="#000" stroke-width="2.2" />
<path d="M348.1,726.5 V723.1 H376.5 V726.5" fill="none" stroke="#000" stroke-width="1.6" />
<text x="343.74" y="720.39" font-size="10.3" fill="#000">p &lt; 0.01</text>
<text x="328.79" y="815.60" font-size="12.3" fill="#000">Fas<tspan font-size="8.0" dy="-3.32">+/+</tspan></text>
<text x="367.49" y="815.60" font-size="12.3" fill="#000">Fas<tspan font-size="8.0" dy="-3.32">-/-</tspan></text>
<text transform="translate(292.91,790.40) rotate(-90)" font-size="11.2" fill="#000">%Caspase 3<tspan font-size="6.72" dy="-4.7">+</tspan></text>
<text transform="translate(306.37,799.56) rotate(-90)" font-size="11.1" fill="#000">CD11b<tspan font-size="6.66" dy="-4.66">+</tspan><tspan dy="4.66">Gr1</tspan><tspan font-size="6.66" dy="-4.66">+</tspan><tspan dy="4.66">cells</tspan></text>
<rect x="439.5" y="708.5" width="73.1" height="95.8" fill="none" stroke="#000" stroke-width="1.7"/>
<text x="426.27" y="712.69" font-size="10" fill="#333">30</text>
<text x="426.27" y="744.49" font-size="10" fill="#333">20</text>
<text x="426.27" y="775.59" font-size="10" fill="#333">10</text>
<text x="431.83" y="807.59" font-size="10" fill="#333">0</text>
<rect x="450.8" y="741.1" width="14.3" height="63.2" fill="#000"/>
<line x1="457.9" y1="718.5" x2="457.9" y2="742" stroke="#000" stroke-width="1.5" />
<rect x="487.2" y="769.2" width="14.3" height="35.1" fill="#000"/>
<line x1="494.3" y1="764.2" x2="494.3" y2="770" stroke="#000" stroke-width="1.8" />
<path d="M465.1,740.4 V736.9 H494.2 V740.4" fill="none" stroke="#000" stroke-width="1.6" />
<text x="464.95" y="731.32" font-size="10.1" fill="#000">p &gt; 0.05</text>
<text x="443.99" y="815.70" font-size="12.3" fill="#000">Fas<tspan font-size="8.0" dy="-3.32">+/+</tspan></text>
<text x="482.49" y="815.70" font-size="12.3" fill="#000">Fas<tspan font-size="8.0" dy="-3.32">-/-</tspan></text>
<text transform="translate(410.94,798.40) rotate(-90)" font-size="11.3" fill="#000">%CD69<tspan font-size="6.78" dy="-4.75">+</tspan><tspan dy="4.75"> CD8</tspan><tspan font-size="6.78" dy="-4.75">+</tspan><tspan dy="4.75">V&#945;</tspan><tspan font-size="6.78" dy="-4.75">+</tspan></text>
<text transform="translate(423.87,776.13) rotate(-90)" font-size="11.1" fill="#000">OT1 cells</text>
<path d="M51.1,688.3 L51.1,671.0 Q57.6,667.0 62.6,661.0 L67.6,656.5 L73.6,656.0 L77.6,660.0 L74.6,669.0 L72.6,675.0 L75.6,682.0 L77.6,688.3 Z" fill="#999" filter="url(#blur2)"/>
<path d="M51.1,688.3 L51.1,679.0 Q58.6,672.0 63.6,665.0 L67.6,659.0 L71.6,658.0 L73.6,661.0 L70.6,668.0 L68.6,675.0 L68.6,688.3 Z" fill="#111" filter="url(#blur1)"/>
<rect x="51.6" y="656.0" width="30.800000000000004" height="31.299999999999955" filter="url(#noiseW3)"/>
<rect x="51.4" y="655.8" width="31.2" height="31.7" fill="none" stroke="#000" stroke-width="1.7"/>
<path d="M61.7,655.8 V669.3 H82.60000000000001" fill="none" stroke="#000" stroke-width="1.6" />
<path d="M90.9,688.3 L90.9,671.0 Q97.4,667.0 102.4,661.0 L107.4,656.5 L113.4,656.0 L117.4,660.0 L114.4,669.0 L112.4,675.0 L115.4,682.0 L117.4,688.3 Z" fill="#999" filter="url(#blur2)"/>
<path d="M90.9,688.3 L90.9,679.0 Q98.4,672.0 103.4,665.0 L107.4,659.0 L111.4,658.0 L113.4,661.0 L110.4,668.0 L108.4,675.0 L108.4,688.3 Z" fill="#111" filter="url(#blur1)"/>
<rect x="91.4" y="656.0" width="29.099999999999994" height="31.299999999999955" filter="url(#noiseW9)"/>
<rect x="91.2" y="655.8" width="29.5" height="31.7" fill="none" stroke="#000" stroke-width="1.7"/>
<path d="M101.6,655.8 V669.3 H120.7" fill="none" stroke="#000" stroke-width="1.6" />
<path d="M179.5,685 L179.5,664 L185.0,661.5 L192.0,663 L199.0,668 L200.0,676 L197.0,685 Z" fill="#aaa" filter="url(#blur2)"/>
<path d="M179.5,685 L179.5,675 L183.0,671.5 L189.0,667.5 L193.0,666 L196.0,668.5 L195.0,674 L192.0,680 L191.0,685 Z" fill="#111" filter="url(#blur1)"/>
<ellipse cx="195.7" cy="667.4" rx="4.6" ry="1.3" fill="#111" filter="url(#blur05)"/>
<rect x="179.9" y="655.1" width="31.3" height="29.3" fill="none" stroke="#000" stroke-width="1.7"/>
<rect x="190.2" y="663.4" width="12.0" height="7.8" fill="none" stroke="#000" stroke-width="1.4"/>
<path d="M216.8,685 L216.8,664 L222.3,661.5 L229.3,663 L236.3,668 L237.3,676 L234.3,685 Z" fill="#aaa" filter="url(#blur2)"/>
<path d="M216.8,685 L216.8,675 L220.3,671.5 L226.3,667.5 L230.3,666 L233.3,668.5 L232.3,674 L229.3,680 L228.3,685 Z" fill="#111" filter="url(#blur1)"/>
<ellipse cx="232.65" cy="667.4" rx="4.6" ry="1.3" fill="#111" filter="url(#blur05)"/>
<rect x="217.2" y="655.1" width="31.1" height="29.3" fill="none" stroke="#000" stroke-width="1.7"/>
<rect x="227.3" y="663.4" width="11.7" height="7.8" fill="none" stroke="#000" stroke-width="1.4"/>
<path d="M322.6,687 L322.6,676 L330.0,674 L338.0,674.5 L342.0,672 L346.0,673 L348.0,679 L347.0,687 Z" fill="#999" filter="url(#blur1)"/>
<path d="M322.6,687 L322.6,679.5 L328.0,677.5 L335.0,677.5 L340.0,678.5 L341.5,682 L341.0,687 Z" fill="#141414" filter="url(#blur1)"/>
<ellipse cx="345.2" cy="670.2" rx="2.8" ry="1.6" fill="#222" transform="rotate(-25 345.2 670.2)" filter="url(#blur05)"/>
<ellipse cx="341.5" cy="671" rx="2.5" ry="1.2" fill="#bbb" filter="url(#blur05)"/>
<rect x="323.1" y="656.7" width="31.7" height="29.7" fill="none" stroke="#000" stroke-width="1.7"/>
<rect x="336.3" y="666.2" width="13.6" height="8.3" fill="none" stroke="#000" stroke-width="1.4"/>
<path d="M363.7,687 L363.7,676 L371.1,674 L379.1,674.5 L383.1,672 L387.1,673 L389.1,679 L388.1,687 Z" fill="#999" filter="url(#blur1)"/>
<path d="M363.7,687 L363.7,679.5 L369.1,677.5 L376.1,677.5 L381.1,678.5 L382.6,682 L382.1,687 Z" fill="#141414" filter="url(#blur1)"/>
<ellipse cx="386.3" cy="670.2" rx="2.8" ry="1.6" fill="#222" transform="rotate(-25 386.3 670.2)" filter="url(#blur05)"/>
<ellipse cx="382.6" cy="671" rx="2.5" ry="1.2" fill="#bbb" filter="url(#blur05)"/>
<rect x="364.2" y="656.7" width="31.5" height="29.7" fill="none" stroke="#000" stroke-width="1.7"/>
<rect x="376.9" y="666.2" width="13.9" height="8.3" fill="none" stroke="#000" stroke-width="1.4"/>
<path d="M443.9,660.4 L450.9,660.4 L450.9,682.3 L443.9,682.3 Z" fill="#e0e0e0" filter="url(#blur2)"/>
<ellipse cx="447.9" cy="684.3" rx="4.5" ry="3.8" fill="#111" filter="url(#blur1)"/>
<ellipse cx="457.9" cy="684.8" rx="6" ry="2.6" fill="#888" filter="url(#blur1)"/>
<ellipse cx="463.9" cy="684.5" rx="1.8" ry="2.6" fill="#333" filter="url(#blur1)"/>
<ellipse cx="463.8" cy="673.5" rx="2.4" ry="1.4" fill="#1a1a1a" transform="rotate(-30 463.8 673.5)"/>
<line x1="443.9" y1="659.4" x2="475.4" y2="659.4" stroke="#ddd" stroke-width="0.8" />
<rect x="443.7" y="657.2" width="31.9" height="30.3" fill="none" stroke="#000" stroke-width="1.7"/>
<rect x="456.8" y="657.1999999999999" width="11.1" height="19.0" fill="none" stroke="#000" stroke-width="1.4"/>
<path d="M481.2,660.4 L488.2,660.4 L488.2,682.3 L481.2,682.3 Z" fill="#e0e0e0" filter="url(#blur2)"/>
<ellipse cx="485.2" cy="684.3" rx="4.5" ry="3.8" fill="#111" filter="url(#blur1)"/>
<ellipse cx="495.2" cy="684.8" rx="6" ry="2.6" fill="#888" filter="url(#blur1)"/>
<ellipse cx="501.2" cy="684.5" rx="1.8" ry="2.6" fill="#333" filter="url(#blur1)"/>
<ellipse cx="501.4" cy="673.5" rx="2.4" ry="1.4" fill="#1a1a1a" transform="rotate(-30 501.4 673.5)"/>
<line x1="481.2" y1="659.4" x2="512.2" y2="659.4" stroke="#ddd" stroke-width="0.8" />
<rect x="481.0" y="657.2" width="31.4" height="30.3" fill="none" stroke="#000" stroke-width="1.7"/>
<rect x="496.20000000000005" y="657.1999999999999" width="10.5" height="19.0" fill="none" stroke="#000" stroke-width="1.4"/>
</svg>
</body></html>
